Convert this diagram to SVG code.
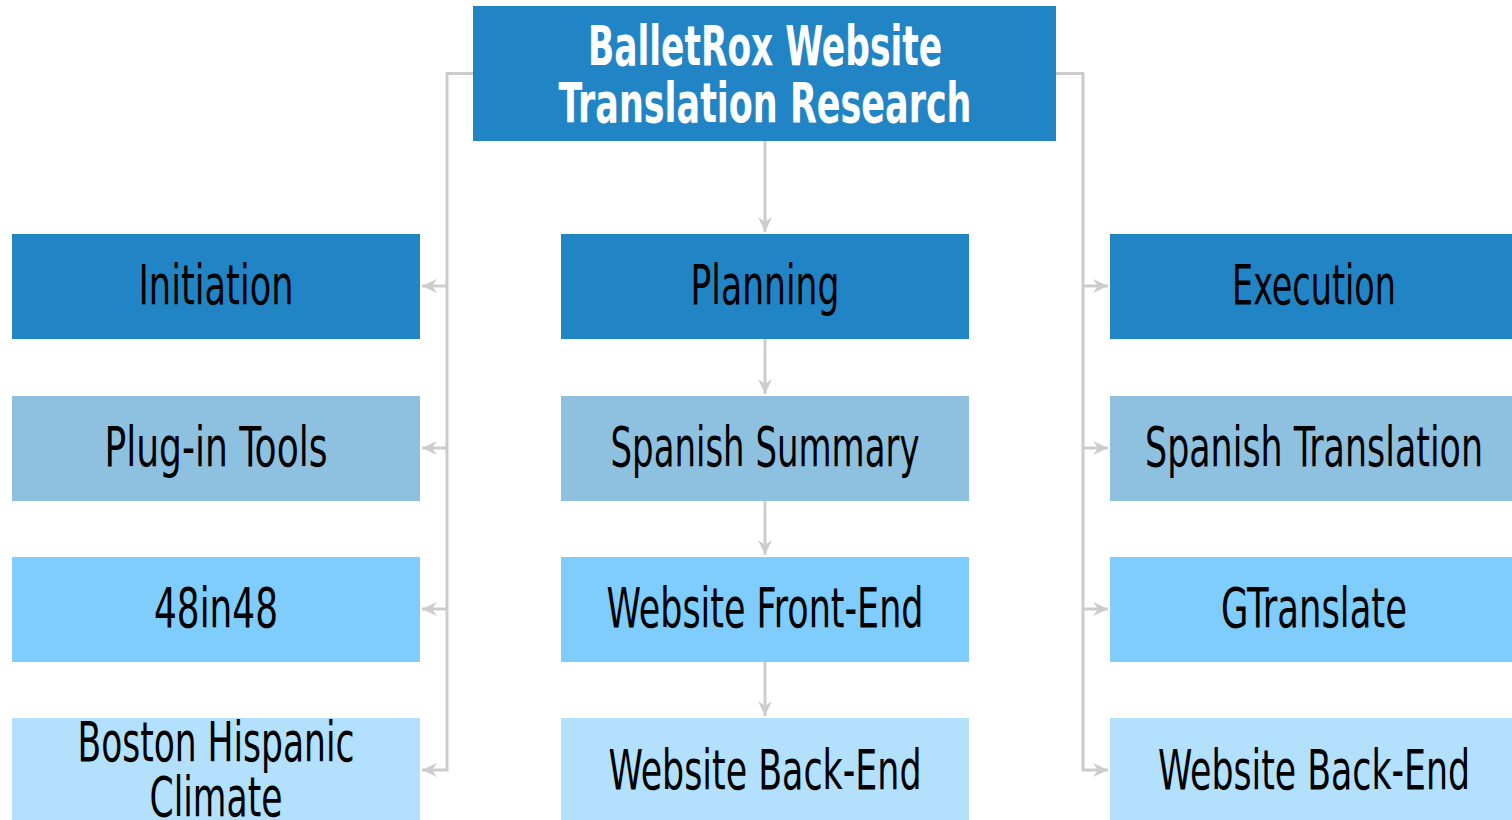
<svg xmlns="http://www.w3.org/2000/svg" width="1512" height="820" viewBox="0 0 1512 820">
<style>
.l1{fill:#2185c5}
.l2{fill:#8ec0e0}
.l3{fill:#7fcdfc}
.l4{fill:#b3e0fc}
.t{font-family:"DejaVu Sans Condensed","DejaVu Sans","Liberation Sans",sans-serif;font-size:56px;fill:#000;text-anchor:middle}
.tt{font-family:"DejaVu Sans Condensed","DejaVu Sans","Liberation Sans",sans-serif;font-weight:bold;font-size:55px;fill:#fff;text-anchor:middle}
.c{fill:none;stroke:#cccccc;stroke-width:3}
</style>
<defs>
<marker id="a" markerWidth="16" markerHeight="14" refX="15" refY="7" orient="auto" markerUnits="userSpaceOnUse" viewBox="0 0 16 14">
<path d="M0,0 L15,7 L0,14 L5,7 Z" fill="#cccccc"/>
</marker>
</defs>
<g id="connectors">
<path class="c" d="M473,73.5 H447 V770 H422" marker-end="url(#a)"/>
<path class="c" d="M447,286 H422" marker-end="url(#a)"/>
<path class="c" d="M447,448 H422" marker-end="url(#a)"/>
<path class="c" d="M447,609 H422" marker-end="url(#a)"/>
<path class="c" d="M1056,73.5 H1083 V770 H1108" marker-end="url(#a)"/>
<path class="c" d="M1083,286 H1108" marker-end="url(#a)"/>
<path class="c" d="M1083,448 H1108" marker-end="url(#a)"/>
<path class="c" d="M1083,609 H1108" marker-end="url(#a)"/>
<path class="c" d="M765,141 V232" marker-end="url(#a)"/>
<path class="c" d="M765,339 V394" marker-end="url(#a)"/>
<path class="c" d="M765,501 V555" marker-end="url(#a)"/>
<path class="c" d="M765,662 V716" marker-end="url(#a)"/>
</g>
<g id="root"><rect class="l1" x="473" y="6" width="583" height="135"/>
<text class="tt" x="765" y="65" textLength="354" lengthAdjust="spacingAndGlyphs">BalletRox Website</text>
<text class="tt" x="765" y="122" textLength="413" lengthAdjust="spacingAndGlyphs">Translation Research</text></g>
<g id="initiation"><rect class="l1" x="12" y="234" width="408" height="105"/><text class="t" x="216" y="304" textLength="155" lengthAdjust="spacingAndGlyphs">Initiation</text></g>
<g id="plugin"><rect class="l2" x="12" y="396" width="408" height="105"/><text class="t" x="216" y="466" textLength="223" lengthAdjust="spacingAndGlyphs">Plug-in Tools</text></g>
<g id="n48in48"><rect class="l3" x="12" y="557" width="408" height="105"/><text class="t" x="216" y="627" textLength="124" lengthAdjust="spacingAndGlyphs">48in48</text></g>
<g id="boston"><rect class="l4" x="12" y="718" width="408" height="102"/><text class="t" x="216" y="761" textLength="277" lengthAdjust="spacingAndGlyphs">Boston Hispanic</text><text class="t" x="216" y="816" textLength="133" lengthAdjust="spacingAndGlyphs">Climate</text></g>
<g id="planning"><rect class="l1" x="561" y="234" width="408" height="105"/><text class="t" x="765" y="304" textLength="149" lengthAdjust="spacingAndGlyphs">Planning</text></g>
<g id="spanishSummary"><rect class="l2" x="561" y="396" width="408" height="105"/><text class="t" x="765" y="466" textLength="309" lengthAdjust="spacingAndGlyphs">Spanish Summary</text></g>
<g id="frontEnd"><rect class="l3" x="561" y="557" width="408" height="105"/><text class="t" x="765" y="627" textLength="317" lengthAdjust="spacingAndGlyphs">Website Front-End</text></g>
<g id="backEnd1"><rect class="l4" x="561" y="718" width="408" height="102"/><text class="t" x="765" y="789" textLength="313" lengthAdjust="spacingAndGlyphs">Website Back-End</text></g>
<g id="execution"><rect class="l1" x="1110" y="234" width="402" height="105"/><text class="t" x="1314" y="304" textLength="164" lengthAdjust="spacingAndGlyphs">Execution</text></g>
<g id="spanishTranslation"><rect class="l2" x="1110" y="396" width="402" height="105"/><text class="t" x="1314" y="466" textLength="338" lengthAdjust="spacingAndGlyphs">Spanish Translation</text></g>
<g id="gtranslate"><rect class="l3" x="1110" y="557" width="402" height="105"/><text class="t" x="1314" y="627" textLength="186" lengthAdjust="spacingAndGlyphs">GTranslate</text></g>
<g id="backEnd2"><rect class="l4" x="1110" y="718" width="402" height="102"/><text class="t" x="1314" y="789" textLength="312" lengthAdjust="spacingAndGlyphs">Website Back-End</text></g>
</svg>
